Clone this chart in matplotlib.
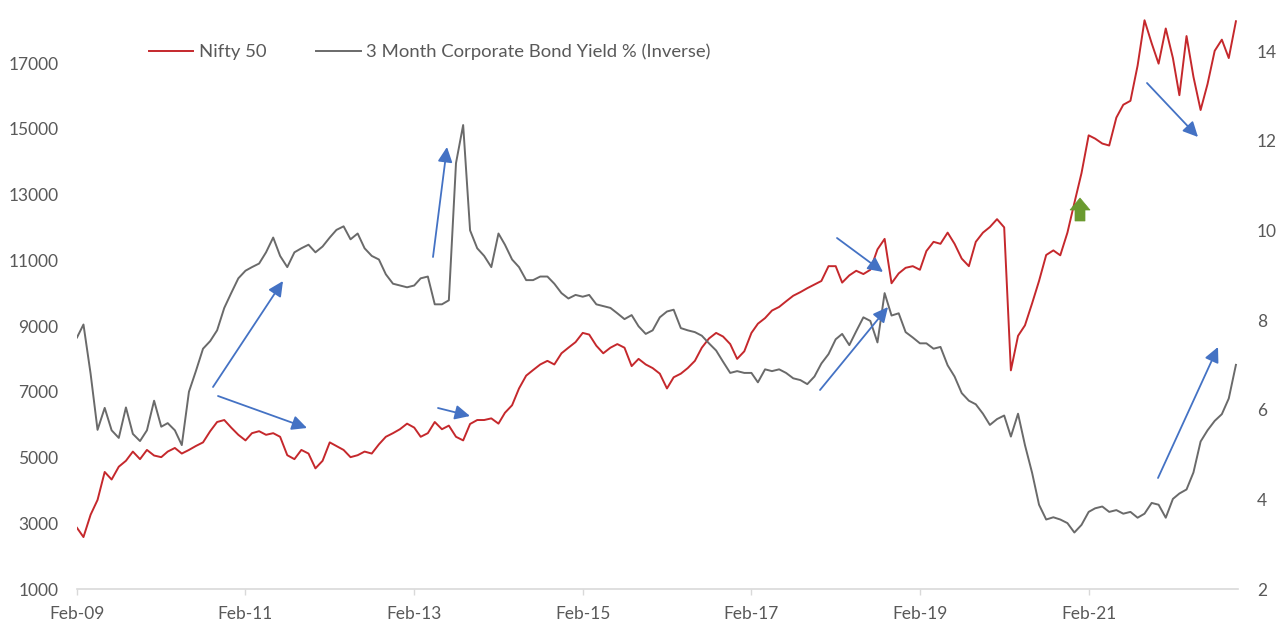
#!/usr/bin/env python3
"""
Nifty 50 vs 3 month corporate bond yield (inverse), monthly readings.
Two y axes: index level on the left, yield % on the right.
"""

import pandas as pd
import matplotlib
matplotlib.use("Agg")
import matplotlib.pyplot as plt
from matplotlib.lines import Line2D
from matplotlib.patches import FancyArrowPatch, Polygon

# Monthly values, Feb 2009 .. Nov 2022
start_month = "2009-02-01"

nifty_50 = [
    2860, 2580, 3260, 3710, 4560, 4330, 4720, 4900, 5180, 4950, 5230, 5060,
    5010, 5180, 5290, 5120, 5230, 5350, 5460, 5800, 6080, 6140, 5910, 5690,
    5520, 5740, 5800, 5690, 5740, 5630, 5070, 4950, 5230, 5120, 4670, 4900,
    5460, 5350, 5230, 5010, 5070, 5180, 5120, 5400, 5630, 5740, 5860, 6030,
    5910, 5630, 5740, 6080, 5860, 5970, 5630, 5520, 6020, 6140, 6140, 6190,
    6030, 6360, 6590, 7100, 7490, 7660, 7830, 7940, 7830, 8170, 8340, 8510,
    8790, 8740, 8400, 8170, 8340, 8450, 8340, 7780, 8000, 7830, 7720, 7550,
    7100, 7440, 7550, 7720, 7940, 8340, 8620, 8790, 8680, 8450, 8000, 8230,
    8790, 9070, 9240, 9470, 9580, 9750, 9920, 10030, 10150, 10260, 10370, 10820,
    10820, 10320, 10540, 10680, 10580, 10710, 11330, 11650, 10300, 10600, 10770, 10820,
    10710, 11280, 11560, 11500, 11840, 11500, 11050, 10820, 11560, 11840, 12010, 12250,
    12000, 7650, 8700, 9020, 9690, 10370, 11160, 11300, 11150, 11840, 12740, 13650,
    14800, 14700, 14550, 14490, 15340, 15730, 15850, 16920, 18300, 17600, 16980, 18050,
    17150, 16020, 17820, 16580, 15570, 16360, 17370, 17710, 17150, 18270,
]

bond_yield_inverse = [
    7.61, 7.90, 6.80, 5.55, 6.04, 5.54, 5.37, 6.05, 5.46, 5.30, 5.54, 6.20,
    5.62, 5.70, 5.54, 5.21, 6.40, 6.86, 7.36, 7.53, 7.77, 8.27, 8.60, 8.93,
    9.10, 9.18, 9.26, 9.51, 9.84, 9.43, 9.18, 9.51, 9.60, 9.68, 9.51, 9.64,
    9.84, 10.01, 10.09, 9.80, 9.93, 9.60, 9.43, 9.35, 9.02, 8.81, 8.77, 8.73,
    8.77, 8.93, 8.97, 8.35, 8.35, 8.44, 11.50, 12.35, 10.00, 9.60, 9.43, 9.18,
    9.93, 9.68, 9.35, 9.18, 8.89, 8.89, 8.97, 8.97, 8.81, 8.60, 8.48, 8.56,
    8.52, 8.56, 8.35, 8.31, 8.27, 8.15, 8.02, 8.11, 7.86, 7.69, 7.77, 8.06,
    8.19, 8.23, 7.82, 7.77, 7.73, 7.65, 7.48, 7.32, 7.07, 6.82, 6.86, 6.82,
    6.82, 6.61, 6.90, 6.86, 6.90, 6.82, 6.70, 6.66, 6.57, 6.74, 7.03, 7.24,
    7.57, 7.69, 7.44, 7.75, 8.06, 7.98, 7.50, 8.60, 8.10, 8.15, 7.73, 7.61,
    7.48, 7.48, 7.36, 7.40, 6.99, 6.74, 6.37, 6.20, 6.12, 5.91, 5.66, 5.79,
    5.87, 5.40, 5.91, 5.21, 4.59, 3.88, 3.55, 3.60, 3.55, 3.47, 3.26, 3.43,
    3.72, 3.80, 3.84, 3.72, 3.76, 3.68, 3.72, 3.59, 3.68, 3.92, 3.88, 3.59,
    4.01, 4.13, 4.22, 4.60, 5.29, 5.54, 5.75, 5.90, 6.25, 7.00,
]

tick_years = [2009, 2011, 2013, 2015, 2017, 2019, 2021]
left_ticks = [1000, 3000, 5000, 7000, 9000, 11000, 13000, 15000, 17000]
right_ticks = [2, 4, 6, 8, 10, 12, 14]

series_names = ["Nifty 50", "3 Month Corporate Bond Yield % (Inverse)"]

RED = "#c5282c"
GREY = "#6a6a6a"
BLUE = "#4472c4"
GREEN = "#6a9a2f"
TEXT = "#595959"
AXIS = "#d9d9d9"

# plot area in the 1285x624 picture (pixels)
W, H = 1285, 624
X0, X1, Y0, Y1 = 77, 1238, 589, 5


def px(x, y):
    """Pixel position in the picture -> axes fraction."""
    return ((x - X0) / (X1 - X0), (Y0 - y) / (Y0 - Y1))


def draw_arrows(ax):
    # blue callouts, tail -> head, pixel positions
    blue = [
        ((213, 387), (283, 281)),
        ((218, 396), (307, 428)),
        ((433, 257), (447, 147)),
        ((438, 408), (470, 416)),
        ((837, 238), (883, 272)),
        ((820, 390), (888, 307)),
        ((1147, 83), (1198, 137)),
        ((1158, 478), (1218, 347)),
    ]
    for tail, head in blue:
        arrow = FancyArrowPatch(px(*tail), px(*head), transform=ax.transAxes,
                                arrowstyle="-|>,head_length=0.45,head_width=0.22",
                                mutation_scale=20, shrinkA=0, shrinkB=0,
                                color=BLUE, lw=1.3, clip_on=False, zorder=10)
        ax.add_patch(arrow)

    # green block arrow pointing up
    shape = [(1070, 210), (1080, 198), (1090, 210), (1085, 210),
             (1085, 221), (1075, 221), (1075, 210)]
    ax.add_patch(Polygon([px(*p) for p in shape], closed=True, transform=ax.transAxes,
                         facecolor=GREEN, edgecolor=GREEN, lw=0.5, zorder=10))


def main():
    plt.rcParams["font.family"] = ["Lato", "DejaVu Sans"]
    plt.rcParams["font.size"] = 12.5

    dates = pd.date_range(start_month, periods=len(nifty_50), freq="MS")

    fig = plt.figure(figsize=(W / 100, H / 100), dpi=100)
    ax = fig.add_axes([X0 / W, (H - Y0) / H, (X1 - X0) / W, (Y0 - Y1) / H])
    ax2 = ax.twinx()

    ax.plot(dates, nifty_50, color=RED, lw=1.4)
    ax2.plot(dates, bond_yield_inverse, color=GREY, lw=1.4)

    # scales
    ax.set_xlim(pd.Timestamp("2009-02-01"), pd.Timestamp("2022-11-10"))
    ax.set_ylim(1000, 1000 + (Y0 - Y1) * 2000 / 65.75)
    ax2.set_ylim(2, 2 + (Y0 - Y1) / 44.83)

    ticks = [pd.Timestamp(f"{y}-02-01") for y in tick_years]
    ax.set_xticks(ticks)
    ax.set_xticklabels([t.strftime("%b-%y") for t in ticks])
    ax.set_yticks(left_ticks)
    ax.set_yticklabels([str(v) for v in left_ticks])
    ax2.set_yticks(right_ticks)
    ax2.set_yticklabels([str(v) for v in right_ticks])

    for a in (ax, ax2):
        for side in ("top", "left", "right", "bottom"):
            a.spines[side].set_visible(False)
    ax.spines["bottom"].set_visible(True)
    ax.spines["bottom"].set_color(AXIS)
    ax.spines["bottom"].set_linewidth(1.2)

    ax.tick_params(axis="x", length=4, width=1, color=AXIS, pad=8, labelcolor=TEXT)
    ax.tick_params(axis="y", length=0, pad=13.5, labelcolor=TEXT)
    ax2.tick_params(axis="y", length=0, pad=13.5, labelcolor=TEXT)

    # legend across the top
    handles = [Line2D([], [], color=RED, lw=1.4), Line2D([], [], color=GREY, lw=1.4)]
    ax2.legend(handles, series_names, loc="center left", ncol=2, frameon=False,
               bbox_to_anchor=(149 / W, 1 - 52 / H), bbox_transform=fig.transFigure,
               borderpad=0, borderaxespad=0, handlelength=2.4, handletextpad=0.3,
               columnspacing=2.7, labelcolor=TEXT, fontsize=13.3)

    draw_arrows(ax2)

    fig.savefig("out.png", dpi=100)


if __name__ == "__main__":
    main()
